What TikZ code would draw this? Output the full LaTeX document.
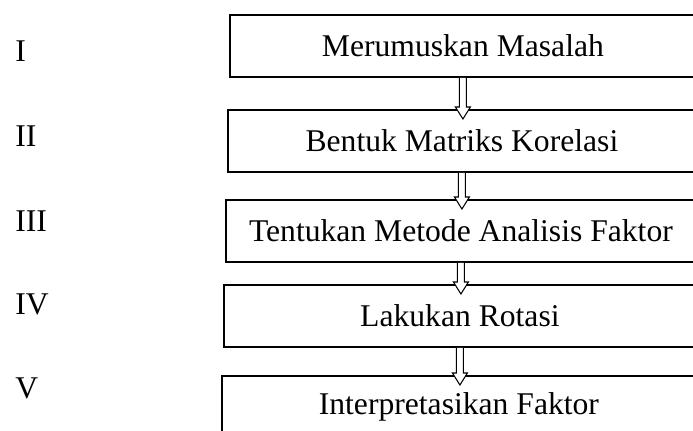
\documentclass[tikz,border=0pt]{standalone}
\usepackage{fontspec}
\setmainfont{Liberation Serif}
\usetikzlibrary{calc}

\tikzset{
  stepbox/.style={draw,line width=1.1pt,anchor=north west,inner sep=0pt,
    minimum height=1.24cm,font=\fontsize{18}{21}\selectfont},
  numlabel/.style={anchor=west,inner sep=0pt,font=\fontsize{18}{21}\selectfont},
  arrowline/.style={draw,fill=white,line width=0.6pt,line join=miter}
}

% hollow arrow from the bottom of #1 into the top of #2
\newcommand{\hollowarrow}[2]{%
  \coordinate (top) at (#1.south);
  \coordinate (bot) at (#1.south |- #2.north);
  \draw[arrowline] ($(top)+(-3.5,0)$) -- ($(bot)+(-3.5,-2)$) -- ($(bot)+(-7.5,-2)$)
    -- ($(bot)+(0,10)$) -- ($(bot)+(7.5,-2)$) -- ($(bot)+(3.5,-2)$) -- ($(top)+(3.5,0)$);
}

\begin{document}
\begin{tikzpicture}[x=0.02cm,y=-0.02cm]
	\useasboundingbox (0,0) rectangle (693,430);
	%
	\node[numlabel] (n1) at (15,51) {I};
	\node[numlabel] (n2) at (15,136) {II};
	\node[numlabel] (n3) at (15,221) {III};
	\node[numlabel] (n4) at (15,304) {IV};
	\node[numlabel] (n5) at (15,388) {V};
	%
	\node[stepbox,minimum width=9.32cm] (b1) at (229,14) {Merumuskan Masalah};
	\node[stepbox,minimum width=9.36cm] (b2) at (227,109) {Bentuk Matriks Korelasi};
	\node[stepbox,minimum width=9.40cm] (b3) at (225,199) {Tentukan Metode Analisis Faktor};
	\node[stepbox,minimum width=9.44cm] (b4) at (223,284) {Lakukan Rotasi};
	\node[stepbox,minimum width=9.48cm] (b5) at (221,375) {Interpretasikan Faktor};
	%
		\hollowarrow{b1}{b2}
		\hollowarrow{b2}{b3}
		\hollowarrow{b3}{b4}
		\hollowarrow{b4}{b5}
\end{tikzpicture}
\end{document}
